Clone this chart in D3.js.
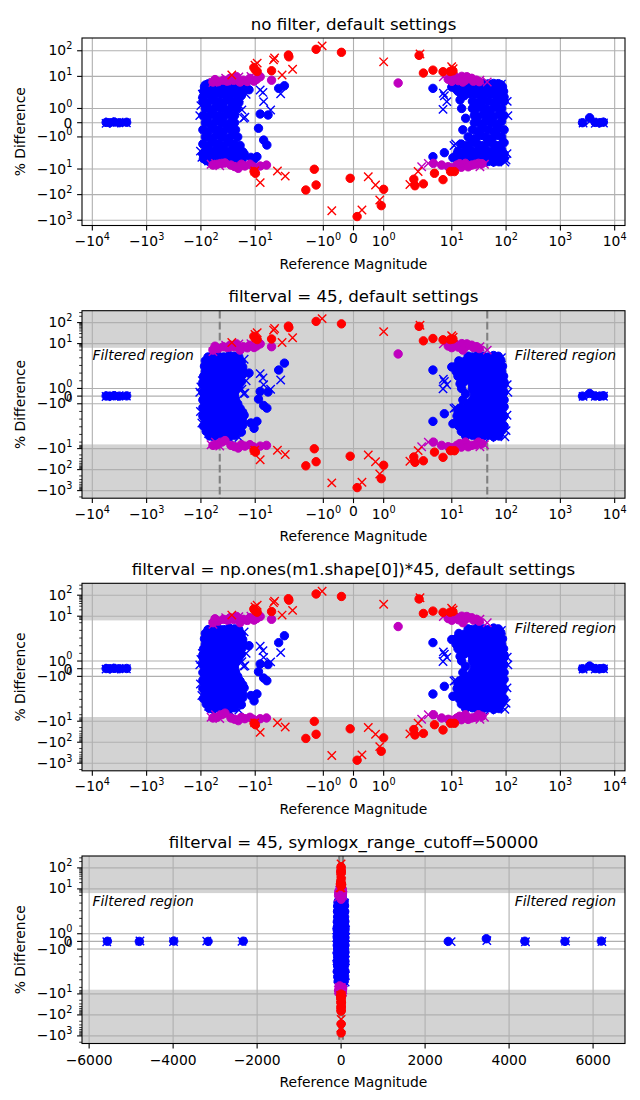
<!DOCTYPE html>
<html>
<head>
<meta charset="UTF-8">
<script src="https://d3js.org/d3.v7.min.js"></script>
<style>
  body { margin: 0; background: #fff; }
  svg text { font-family: "DejaVu Sans", sans-serif; fill: #000; }
</style>
</head>
<body>
<svg id="fig" width="640" height="1100"></svg>
<script>
// ---- data (Reference Magnitude, % Difference) ----
const blueBlobLeft = [
  [-74,5.1],[-59,5.3],[-47,5.2],[-38,5.1],[-30,5.3],[-24,5.2],[-20,5.1],
  [-83,4.6],[-66,4.5],[-53,4.7],[-42,4.6],[-34,4.5],[-27,4.7],[-21.5,4.6],[-18,4.5],
  [-86,3.9],[-74,4.0],[-59,3.8],[-47,3.9],[-38,4.0],[-30,3.8],[-24,3.9],[-19,4.0],[-17,3.8],
  [-83,3.2],[-66,3.3],[-53,3.1],[-42,3.2],[-34,3.3],[-27,3.1],[-21.5,3.2],[-17,3.3],
  [-89,2.6],[-74,2.5],[-59,2.7],[-47,2.6],[-38,2.5],[-30,2.7],[-24,2.6],[-19,2.5],[-17.5,2.7],
  [-83,2.0],[-92,1.8],[-66,1.9],[-53,2.1],[-42,2.0],[-34,1.9],[-27,2.1],[-21.5,2.0],[-18,1.9],
  [-92,1.5],[-74,1.4],[-59,1.6],[-47,1.5],[-38,1.4],[-30,1.6],[-24,1.5],[-20,1.4],
  [-83,1.0],[-66,0.9],[-53,1.1],[-42,1.0],[-34,0.9],[-27,1.1],[-22,1.0],
  [-92,0.5],[-74,0.4],[-59,0.6],[-47,0.5],[-38,0.4],[-30,0.6],[-24,0.5],
  [-83,0.0],[-66,-0.1],[-53,0.1],[-42,0.0],[-34,-0.1],[-27,0.1],[-24,0.0],
  [-92,-0.5],[-74,-0.6],[-59,-0.4],[-47,-0.5],[-38,-0.6],[-30,-0.4],[-23,-0.5],
  [-83,-1.0],[-66,-1.1],[-53,-0.9],[-42,-1.0],[-34,-1.1],[-27,-0.9],[-21,-1.0],
  [-92,-1.5],[-74,-1.6],[-59,-1.4],[-47,-1.5],[-38,-1.6],[-30,-1.4],[-24,-1.5],[-19,-1.6],
  [-83,-2.0],[-66,-2.1],[-53,-1.9],[-42,-2.0],[-34,-2.1],[-27,-1.9],[-21.5,-2.0],[-17,-2.1],
  [-92,-2.6],[-74,-2.7],[-59,-2.5],[-47,-2.6],[-38,-2.7],[-30,-2.5],[-24,-2.6],[-19,-2.7],[-16,-2.5],
  [-83,-3.2],[-66,-3.3],[-53,-3.1],[-42,-3.2],[-34,-3.3],[-27,-3.1],[-21.5,-3.2],[-17,-3.3],
  [-90,-3.9],[-74,-4.0],[-59,-3.8],[-47,-3.9],[-38,-4.0],[-30,-3.8],[-24,-3.9],[-19,-4.0],[-17,-3.8],
  [-80,-4.6],[-66,-4.7],[-53,-4.5],[-42,-4.6],[-34,-4.7],[-27,-4.5],[-21.5,-4.6],[-18,-4.7],
  [-70,-5.2],[-59,-5.3],[-47,-5.1],[-38,-5.2],[-30,-5.3],[-24,-5.1]
];
const blueBlobRight = [
  [20,5.2],[24,5.1],[30,5.3],[38,5.2],[47,5.1],[59,5.3],[72,5.2],
  [13.5,4.6],[17,4.5],[21.5,4.7],[27,4.6],[34,4.5],[42,4.7],[53,4.6],[66,4.5],[80,4.7],
  [12,3.9],[15,4.0],[19,3.8],[24,3.9],[30,4.0],[38,3.8],[47,3.9],[59,4.0],[74,3.8],[86,3.9],
  [12,3.2],[13.5,3.3],[17,3.1],[21.5,3.2],[27,3.3],[34,3.1],[42,3.2],[53,3.3],[66,3.1],[83,3.2],
  [13,2.6],[15,2.5],[19,2.7],[24,2.6],[30,2.5],[38,2.7],[47,2.6],[59,2.5],[74,2.7],[90,2.6],
  [15,2.0],[17,1.9],[21.5,2.1],[27,2.0],[34,1.9],[42,2.1],[53,2.0],[66,1.9],[83,2.1],[92,1.8],
  [24,1.5],[30,1.4],[38,1.6],[47,1.5],[59,1.4],[74,1.6],[92,1.5],
  [24,1.0],[27,0.9],[34,1.1],[42,1.0],[53,0.9],[66,1.1],[83,1.0],
  [26,0.5],[30,0.4],[38,0.6],[47,0.5],[59,0.4],[74,0.6],[92,0.5],
  [26,0.0],[34,-0.1],[42,0.1],[53,0.0],[66,-0.1],[83,0.1],
  [24,-0.5],[30,-0.6],[38,-0.4],[47,-0.5],[59,-0.6],[74,-0.4],[92,-0.5],
  [20,-1.0],[27,-1.1],[34,-0.9],[42,-1.0],[53,-1.1],[66,-0.9],[83,-1.0],
  [15,-1.5],[19,-1.6],[24,-1.4],[30,-1.5],[38,-1.6],[47,-1.4],[59,-1.5],[74,-1.6],[92,-1.4],
  [13,-2.0],[17,-2.1],[21.5,-1.9],[27,-2.0],[34,-2.1],[42,-1.9],[53,-2.0],[66,-2.1],[83,-1.9],
  [12.5,-2.6],[15,-2.7],[19,-2.5],[24,-2.6],[30,-2.7],[38,-2.5],[47,-2.6],[59,-2.7],[74,-2.5],[92,-2.6],
  [13,-3.2],[17,-3.3],[21.5,-3.1],[27,-3.2],[34,-3.3],[42,-3.1],[53,-3.2],[66,-3.3],[83,-3.1],
  [13.5,-3.9],[15,-4.0],[19,-3.8],[24,-3.9],[30,-4.0],[38,-3.8],[47,-3.9],[59,-4.0],[74,-3.8],[92,-3.9],
  [15,-4.6],[17,-4.7],[21.5,-4.5],[27,-4.6],[34,-4.7],[42,-4.5],[53,-4.6],[66,-4.7],[83,-4.5],
  [18,-5.2],[24,-5.1],[30,-5.3],[38,-5.2],[47,-5.1],[59,-5.3],[74,-5.2]
];
const blueScatterCircles = [
  [-8.1,0.61],[-5.8,0.54],[-8.7,-0.39],[-7.0,-1.22],[-6.1,-1.57],[-9.3,-3.3],[-3.7,3.4],[-2.9,4.3],
  [-12,-3.5],[-10.5,-4.2],[-13,3.0],
  [4.5,3.4],[4.5,-3.3],[7.3,-2.3],[18,0.31],[15.2,1.0],[14.2,1.6],[16,-0.5],[10,3.8],[10.5,-3.6]
];
const blueCrosses = [
  [-100,1.2],[-105,0.5],[-102,-2.0],[-96,-3.5],[-94,2.0],[-16,4.8],[-14.7,2.0],[-19.8,1.25],
  [-15.5,0.38],[-7.2,2.36],[-7.0,1.48],[-5.2,0.89],[-3.4,2.1],[-8.1,2.93],[-16.4,0.31],[-17.6,0.9],
  [-70,-3.2],[-72,-4.9],[-30,-5.5],[-20,-5.4],
  [6.9,0.94],[7.3,1.9],[7.0,2.2],[8.1,1.48],[11.8,-1.5],[11.0,-1.6],[105,1.5],[108,0.5],
  [104,-2.5],[100,-4.5],[82,5.0],[95,-5.3],[50,-5.4],[30,5.4]
];
const farCircles = [
  [-5565,0.02],[-4805,0.0],[-3985,0.05],[-3168,0.0],[-2330,0.03],
  [2551,0.0],[3458,0.35],[4375,0.02],[5330,0.0],[6196,0.04]
];
const farCrosses = [
  [-5580,-0.05],[-4790,0.05],[-3990,-0.03],[-3200,0.04],[-2360,0.0],
  [2620,-0.03],[3470,0.1],[4390,-0.04],[5345,0.03],[6210,-0.02]
];
const magentaCircles = [
  [1.48,5.5],
  [-48,6.2],[-38.7,7.1],[-29,8.4],[-22,9.7],[-16.6,7.1],[-12.5,8.4],[-9.4,7.7],[-8.1,9.7],
  [-5.0,7.1],[-33,6.5],[-19,6.0],[-14,6.3],[-25,7.0],[-10.5,6.5],[-55,7.5],[-60,6.0],
  [-41,-6.0],[-20.5,-9.4],[-15.5,-7.6],[-10.9,-8.1],[-8.1,-7.6],[-6.2,-7.0],[-36,-5.8],
  [-50,-6.5],[-28,-7.0],[-24,-8.0],[-18,-6.5],[-12.5,-6.5],[-60,-7.0],
  [8.6,7.7],[11.5,9.7],[15.3,10],[18.9,9.7],[23.3,8.4],[28.8,7.1],[17.8,7.1],[13.2,6.8],
  [20,8.5],[25,6.5],[32,6.2],[10,6.4],[16,6.0],
  [4.6,-6.0],[6.5,-7.0],[8.6,-8.1],[12.4,-7.0],[17.8,-6.0],[23.3,-7.0],[31,-6.0],[10,-9],
  [15,-8.5],[20,-8.2],[27,-6.5],[36,-6.2],[14,-6.2]
];
const magentaCrosses = [
  [-54,-6.0],[-60,5.8],[-35,8.5],[-20,9.5],[-12,10],[7.0,9.7],[33,7.1],[2.79,-8.1],
  [3.7,-6.0],[33,-8.1],[40,-6.5],[45,6.0],[-45,-7.5],[-65,-6.5],[-25,6.5]
];
const redCircles = [
  [-1.24,114],[-0.4,87],[-2.45,68],[-2.4,58],[2.5,66],
  [-10,18],[-10.6,22],[-9.2,15.5],[-5.0,16.6],
  [3.0,13.5],[4.5,17.5],[6.9,15.2],[9.3,15.5],[10.5,16.5],
  [-9.9,-14.7],[-10.5,-12.5],[-1.3,-10.2],[-0.11,-23],[-1.58,-66],[-1.24,-42],
  [1.0,-62],[0.92,-270],[0.12,-720],
  [2.0,-25],[2.1,-45],[3.0,-38],[4.8,-14.7],[6.9,-26],[9.5,-12.6],[11.2,-12.6]
];
const redCrosses = [
  [-1.04,155],[1.0,37],[-4.6,44],[-4.4,52],[-2.05,19],[-3.2,11.3],[-10.1,27.6],[-9.2,33],
  [-27,11.3],[9.95,24],[10.6,20],[2.6,75],
  [-3.9,-11.9],[-2.8,-19],[-8.1,-34],[0.49,-20],[0.73,-42],[0.87,-163],[-0.72,-427],
  [0.28,-400],[1.87,-40],[2.4,-12.5],[-10.2,-12]
];

// ---- axes settings ----
const titles = [
  "no filter, default settings",
  "filterval = 45, default settings",
  "filterval = np.ones(m1.shape[0])*45, default settings",
  "filterval = 45, symlogx_range_cutoff=50000"
];
const symXTicks = [-1e4, -1e3, -1e2, -1e1, -1, 0, 1, 1e1, 1e2, 1e3, 1e4];
const linXTicks = [-6000, -4000, -2000, 0, 2000, 4000, 6000];
const symYTicks = [-1e3, -1e2, -1e1, -1, 0, 1, 1e1, 1e2];
const filterX = 45;
const filterY = 6.3;

const L = 82, R = 625, H = 187.5;
const tops = [38, 310.7, 583.3, 856];
const gridColor = "#b0b0b0", bandColor = "#d3d3d3";
const colors = { b: "#0000ff", m: "#bf00bf", r: "#ff0000" };

function symlog(c, lsa) {
  return v => {
    const a = Math.abs(v);
    return Math.sign(v) * (a <= c ? a / c * lsa : lsa + Math.log10(a / c));
  };
}
function symScale(tf, tDomain, range) {
  const lin = d3.scaleLinear().domain(tDomain).range(range);
  return v => lin(tf(v));
}

const xSym = symlog(2, 1.111);
const ySym1 = symlog(2, 1.111);
const ySym2 = symlog(6.3, 2.3);

const panels = [
  { yTf: ySym1, yT: [-4.016, 3.309], linearX: false, bands: false, vfill: false, dashed: false, texts: [], minors: false },
  { yTf: ySym2, yT: [-4.862, 4.067], linearX: false, bands: true, vfill: true, dashed: true, texts: ["l", "r"], minors: true },
  { yTf: ySym2, yT: [-4.862, 4.067], linearX: false, bands: true, vfill: false, dashed: false, texts: ["r"], minors: true },
  { yTf: ySym2, yT: [-4.862, 4.067], linearX: true, bands: true, vfill: true, dashed: true, texts: ["l", "r"], minors: true }
];

const svg = d3.select("#fig");
svg.append("rect").attr("width", 640).attr("height", 1100).attr("fill", "#fff");

function powLabel(sel, v) {
  if (v === 0) { sel.text("0"); return; }
  const e = Math.round(Math.log10(Math.abs(v)));
  sel.append("tspan").text((v < 0 ? "\u2212" : "") + "10");
  sel.append("tspan").attr("dy", -6.2).attr("font-size", 9.7).text(e);
}

panels.forEach((p, i) => {
  const top = tops[i], bottom = top + H;
  const x = p.linearX
    ? d3.scaleLinear().domain([-6170, 6760]).range([L, R])
    : symScale(xSym, [-5, 5], [L, R]);
  const y = symScale(p.yTf, p.yT, [bottom, top]);
  const g = svg.append("g");

  const clipId = "clip" + i;
  g.append("clipPath").attr("id", clipId)
    .append("rect").attr("x", L).attr("y", top).attr("width", R - L).attr("height", H);
  const plot = g.append("g").attr("clip-path", `url(#${clipId})`);

  // filtered bands
  if (p.bands) {
    plot.append("rect").attr("x", L).attr("y", top).attr("width", R - L)
      .attr("height", y(filterY) - top).attr("fill", bandColor);
    plot.append("rect").attr("x", L).attr("y", y(-filterY)).attr("width", R - L)
      .attr("height", bottom - y(-filterY)).attr("fill", bandColor);
  }
  if (p.vfill) {
    plot.append("rect").attr("x", x(-filterX)).attr("y", top)
      .attr("width", x(filterX) - x(-filterX)).attr("height", H).attr("fill", bandColor);
  }

  // grid
  const xt = p.linearX ? linXTicks : symXTicks;
  plot.selectAll(".gx").data(xt).enter().append("line")
    .attr("x1", d => x(d)).attr("x2", d => x(d)).attr("y1", top).attr("y2", bottom)
    .attr("stroke", gridColor).attr("stroke-width", 1.1);
  plot.selectAll(".gy").data(symYTicks).enter().append("line")
    .attr("y1", d => y(d)).attr("y2", d => y(d)).attr("x1", L).attr("x2", R)
    .attr("stroke", gridColor).attr("stroke-width", 1.1);

  if (p.dashed) {
    plot.selectAll(".dl").data([-filterX, filterX]).enter().append("line")
      .attr("x1", d => x(d)).attr("x2", d => x(d)).attr("y1", top).attr("y2", bottom)
      .attr("stroke", "#808080").attr("stroke-width", 2.1).attr("stroke-dasharray", "7.7,3.3");
  }

  // markers
  function circles(data, col) {
    plot.append("g").selectAll("circle").data(data).enter().append("circle")
      .attr("cx", d => x(d[0])).attr("cy", d => y(d[1])).attr("r", 4.2)
      .attr("fill", col).attr("stroke", col).attr("stroke-width", 1);
  }
  function crosses(data, col) {
    plot.append("g").selectAll("path").data(data).enter().append("path")
      .attr("transform", d => `translate(${x(d[0])},${y(d[1])})`)
      .attr("d", "M-4.2,-4.2L4.2,4.2M-4.2,4.2L4.2,-4.2")
      .attr("stroke", col).attr("stroke-width", 1.4).attr("fill", "none");
  }
  circles(blueBlobLeft.concat(blueBlobRight, blueScatterCircles, farCircles), colors.b);
  crosses(blueCrosses.concat(farCrosses), colors.b);
  circles(magentaCircles, colors.m);
  crosses(magentaCrosses, colors.m);
  circles(redCircles, colors.r);
  crosses(redCrosses, colors.r);

  // "Filtered region" notes
  p.texts.forEach(side => {
    g.append("text")
      .attr("x", side === "l" ? L + 10.5 : R - 9)
      .attr("y", y(filterY) + 12.5)
      .attr("text-anchor", side === "l" ? "start" : "end")
      .attr("font-style", "italic").attr("font-size", 13.89)
      .text("Filtered region");
  });

  // frame
  g.append("rect").attr("x", L).attr("y", top).attr("width", R - L).attr("height", H)
    .attr("fill", "none").attr("stroke", "#000").attr("stroke-width", 1.1);

  // x ticks
  xt.forEach(v => {
    const px = x(v);
    g.append("line").attr("x1", px).attr("x2", px).attr("y1", bottom).attr("y2", bottom + 4.9)
      .attr("stroke", "#000").attr("stroke-width", 1.1);
    const t = g.append("text").attr("x", px).attr("text-anchor", "middle").attr("font-size", 13.89);
    if (p.linearX) {
      t.attr("y", bottom + 21.5).text(v < 0 ? "\u2212" + Math.abs(v) : String(v));
    } else {
      t.attr("y", bottom + (v === 0 ? 17.5 : 20.5));
      powLabel(t, v);
    }
  });

  // y ticks
  symYTicks.forEach(v => {
    const py = y(v);
    g.append("line").attr("x1", L - 4.9).attr("x2", L).attr("y1", py).attr("y2", py)
      .attr("stroke", "#000").attr("stroke-width", 1.1);
    const t = g.append("text").attr("x", L - 9.7).attr("y", py + (v === 0 ? 5 : 4.5))
      .attr("text-anchor", "end").attr("font-size", 13.89);
    powLabel(t, v);
  });
  if (p.minors) {
    const minorVals = [];
    [1, 10, 100, 1000].forEach(dec => {
      [2, 3, 4, 5, 6, 7, 8, 9].forEach(k => { minorVals.push(k * dec, -k * dec); });
    });
    minorVals.filter(v => y(v) >= top && y(v) <= bottom).forEach(v => {
      g.append("line").attr("x1", L - 2.8).attr("x2", L).attr("y1", y(v)).attr("y2", y(v))
        .attr("stroke", "#000").attr("stroke-width", 0.8);
    });
  }

  // title and labels
  g.append("text").attr("x", (L + R) / 2).attr("y", top - 8.5).attr("text-anchor", "middle")
    .attr("font-size", 16.67).text(titles[i]);
  g.append("text").attr("x", (L + R) / 2).attr("y", bottom + 43).attr("text-anchor", "middle")
    .attr("font-size", 13.89).text("Reference Magnitude");
  g.append("text").attr("transform", `translate(25,${(top + bottom) / 2}) rotate(-90)`)
    .attr("text-anchor", "middle").attr("font-size", 13.89).text("% Difference");
});
</script>
</body>
</html>
